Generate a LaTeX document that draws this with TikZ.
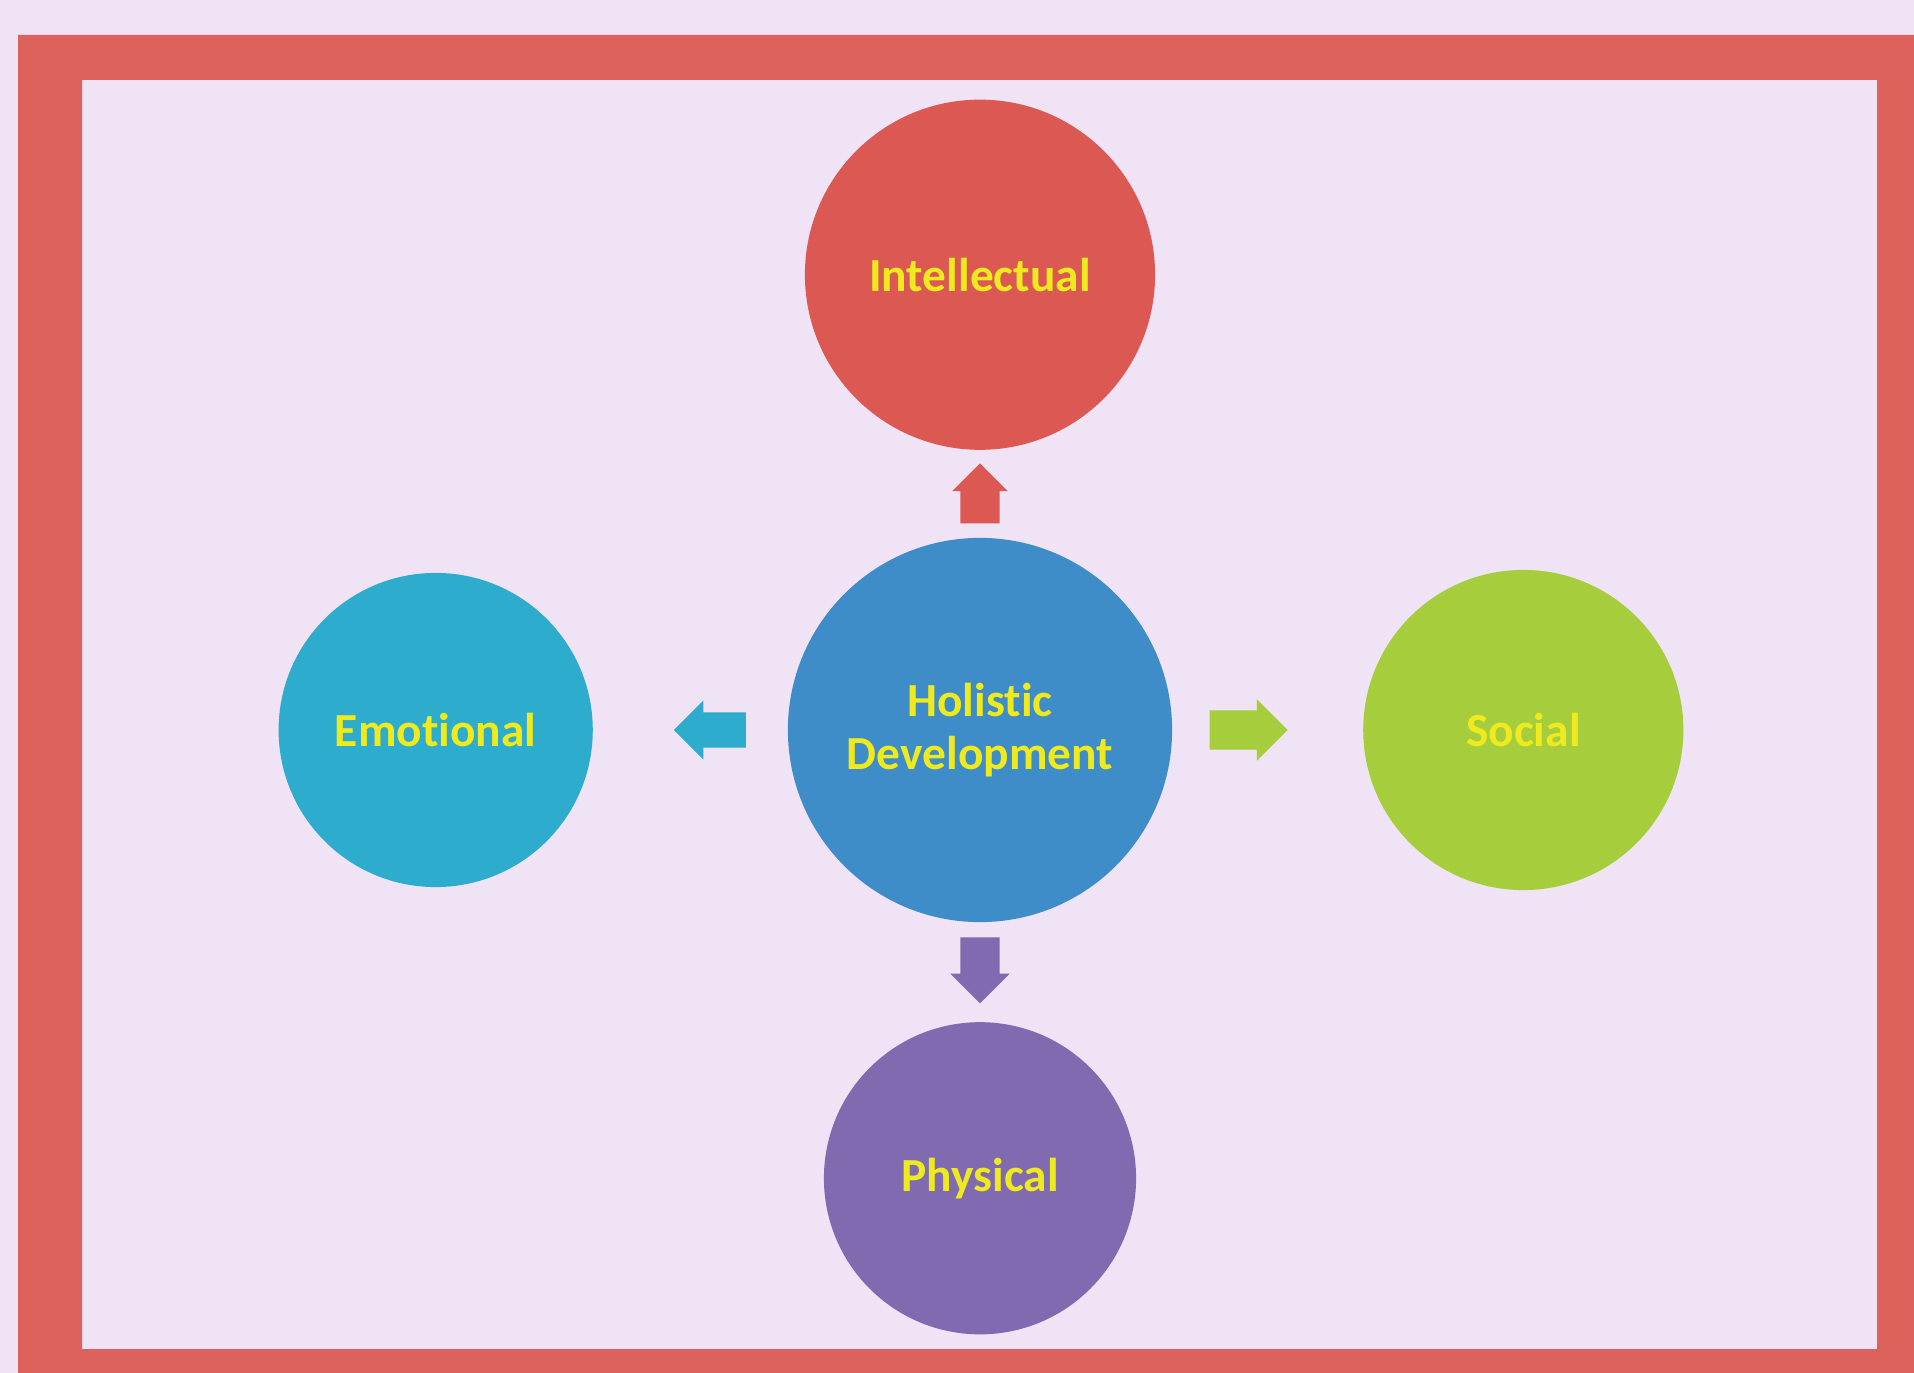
\documentclass[tikz,border=0pt]{standalone}
\usepackage{fontspec}
\setmainfont[Ligatures=NoCommon]{Carlito}
\usepackage{tikz}
\usetikzlibrary{positioning,shapes.arrows,calc}

\definecolor{lavbg}{RGB}{239,227,245}
\definecolor{framered}{RGB}{222,98,92}
\definecolor{intred}{RGB}{220,88,82}
\definecolor{holblue}{RGB}{62,140,200}
\definecolor{emocyan}{RGB}{45,172,205}
\definecolor{socgreen}{RGB}{165,205,60}
\definecolor{phypurple}{RGB}{128,106,176}
\definecolor{txtyellow}{RGB}{238,234,30}

\begin{document}
\begin{tikzpicture}[x=0.01cm,y=-0.01cm,on grid,
  dev node/.style={circle,draw=none,inner sep=0pt,text=txtyellow,align=center,
        font=\fontsize{13.5}{15}\selectfont\bfseries},
  blk arrow/.style={single arrow,draw=none,inner xsep=0pt,inner ysep=0.19cm,
        single arrow tip angle=90,anchor=tail}]
  \useasboundingbox (0,0) rectangle (1914,1373);
  \fill[lavbg] (0,0) rectangle (1914,1373);
  \fill[framered,even odd rule] (18,35) rectangle (1914,1373) (82,80) rectangle (1877,1349);

  \node[dev node,fill=holblue,minimum size=3.84cm] (hol) at (980,730) {Holistic\\Development};
  \node[dev node,fill=intred,minimum size=3.5cm]     (int) [above=4.55cm of hol] {Intellectual};
  \node[dev node,fill=emocyan,minimum size=3.14cm]   (emo) [left=5.44cm of hol] {Emotional};
  \node[dev node,fill=socgreen,minimum size=3.2cm]   (soc) [right=5.43cm of hol] {Social};
  \node[dev node,fill=phypurple,minimum size=3.12cm] (phy) [below=4.48cm of hol] {Physical};

  \node[blk arrow,fill=intred,rotate=90,minimum height=0.60cm,
        single arrow head extend=0.08cm] (upArr) at ($(hol.north)!0.15!(int.south)$) {};
  \node[blk arrow,fill=phypurple,rotate=-90,minimum height=0.66cm,
        single arrow head extend=0.10cm] (downArr) at ($(hol.south)!0.14!(phy.north)$) {};
  \node[blk arrow,fill=socgreen,minimum height=0.78cm,
        single arrow head extend=0.11cm] (rightArr) at ($(hol.east)!0.19!(soc.west)$) {};
  \node[blk arrow,fill=emocyan,rotate=180,minimum height=0.72cm,inner ysep=0.17cm,
        single arrow head extend=0.12cm] (leftArr) at ($(hol.west)!0.21!(emo.east)$) {};
\end{tikzpicture}
\end{document}
